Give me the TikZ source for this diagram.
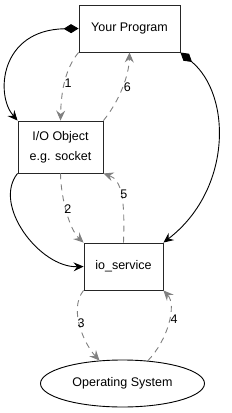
\documentclass[tikz,border=0pt]{standalone}
\usepackage{fontspec}
\setmainfont{Liberation Sans}
\usetikzlibrary{arrows.meta,shapes.geometric}
\begin{document}
\begin{tikzpicture}[x=1bp,y=-1bp,
  box/.style={draw=black!85,line width=0.9bp,inner sep=0pt,font=\fontsize{12.5bp}{20bp}\selectfont,align=center},
  solidedge/.style={draw=black,line width=0.9bp,-{Stealth[length=10bp,width=9bp,inset=3.5bp]}},
  diaedge/.style={draw=black,line width=0.9bp,{Diamond[length=15bp,width=9bp]}-{Stealth[length=10bp,width=9bp,inset=3.5bp]}},
  dashedge/.style={draw=gray,line width=0.9bp,dash pattern=on 6bp off 5bp,-{Stealth[length=10bp,width=9bp,inset=3.5bp,gray]}},
  lbl/.style={font=\fontsize{12.5bp}{14bp}\selectfont,inner sep=0pt}]
\useasboundingbox (0,0) rectangle (232,413);
\node[box,minimum width=101bp,minimum height=47bp] (prog) at (129.5,28.5) {Your Program};
\node[box,minimum width=85bp,minimum height=52bp] (io) at (60.5,147) {I/O Object\\e.g. socket};
\node[box,minimum width=79bp,minimum height=47bp] (svc) at (123.5,266.5) {io\_service};
\node[draw=black,line width=0.9bp,ellipse,inner sep=0pt,minimum width=164bp,minimum height=47bp,font=\fontsize{12.5bp}{14bp}\selectfont] (os) at (122.5,383.5) {Operating System};

\draw[diaedge] (prog.west) .. controls (0,30) and (-5,95) .. (io.north west);
\draw[diaedge] (prog.south east) .. controls (232,95) and (232,190) .. (svc.north east);
\draw[solidedge] (io.south west) .. controls (-8,205) and (40,268) .. (svc.west);

\draw[dashedge] (prog.south west) .. controls (64,70) and (61,95) .. node[lbl,pos=0.5,anchor=west,xshift=0bp] {1} (io.north);
\draw[dashedge] (io.north east) .. controls (120,100) and (129,75) .. node[lbl,pos=0.5,anchor=west,xshift=1bp] {6} (prog.south);
\draw[dashedge] (io.south) .. controls (61,200) and (70,230) .. node[lbl,pos=0.45,anchor=west,xshift=-2bp] {2} (svc.north west);
\draw[dashedge] (svc.north) .. controls (125,200) and (122,180) .. node[lbl,pos=0.5,anchor=west,xshift=-1bp] {5} (io.south east);
\draw[dashedge] (svc.south west) .. controls (68,310) and (85,345) .. node[lbl,pos=0.45,anchor=west,xshift=-2bp] {3} (os.135);
\draw[dashedge] (os.42) .. controls (168,340) and (177,305) .. node[lbl,pos=0.55,anchor=west,xshift=1bp] {4} (svc.south east);
\end{tikzpicture}
\end{document}
